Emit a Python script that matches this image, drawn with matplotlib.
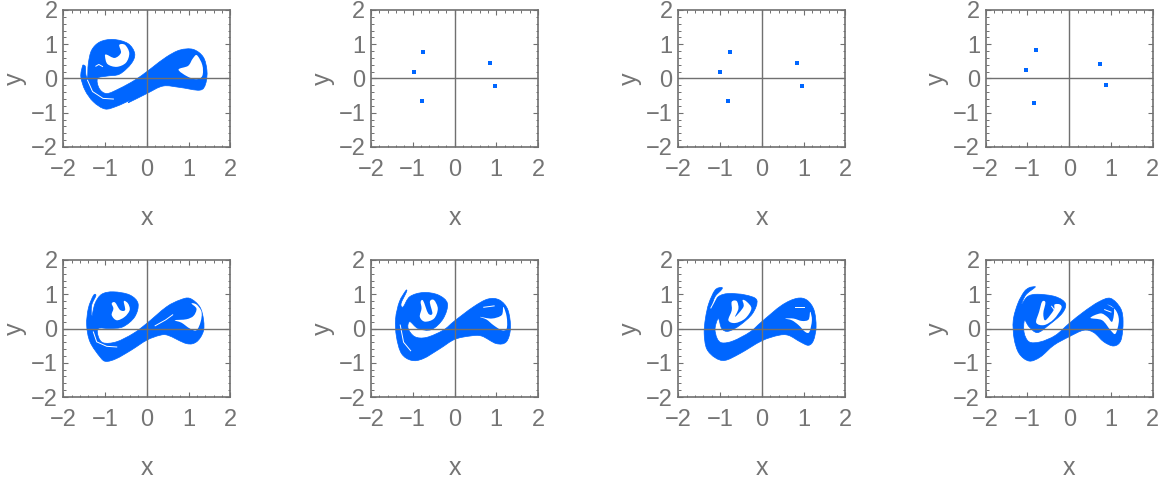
import matplotlib
matplotlib.use('Agg')
import matplotlib.pyplot as plt
from matplotlib.path import Path
from matplotlib.patches import PathPatch

plt.rcParams['font.family'] = ['Liberation Sans', 'DejaVu Sans']

BLUE = '#0066ff'
GREY = '#707070'
TEXT = '#747474'

# period-5 points, top row
dots2_x = [-0.76, -0.98, -0.79, 0.85, 0.98]
dots2_y = [0.78, 0.18, -0.67, 0.46, -0.22]
dots3_x = [-0.77, -0.99, -0.80, 0.84, 0.97]
dots3_y = [0.78, 0.19, -0.67, 0.46, -0.22]
dots4_x = [-0.80, -1.04, -0.85, 0.73, 0.87]
dots4_y = [0.83, 0.24, -0.71, 0.42, -0.19]

# attractor outlines
out1 = [(-1.54, 0.36), (-1.58, 0.05), (-1.48, -0.34), (-1.28, -0.68), (-1.0, -0.89), (-0.72, -0.81),
        (-0.40, -0.64), (-0.43, -0.70), (0.0, -0.44), (0.39, -0.22), (0.79, -0.26), (1.27, -0.34),
        (1.41, -0.15), (1.44, 0.24), (1.35, 0.63), (1.11, 0.85), (0.79, 0.83), (0.47, 0.63),
        (0.15, 0.34), (0.0, 0.2), (-0.29, -0.05), (-0.65, -0.29), (-0.96, -0.44), (-1.14, -0.29),
        (-1.18, 0.0), (-0.96, 0.07), (-0.65, 0.13), (-0.37, 0.44), (-0.29, 0.73), (-0.45, 1.02),
        (-0.8, 1.14), (-1.12, 1.07), (-1.32, 0.83), (-1.40, 0.44), (-1.42, 0.03), (-1.46, 0.12),
        (-1.47, 0.34), (-1.51, 0.39)]
hole1a = [(-1.0, 0.64), (-0.94, 0.42), (-0.72, 0.34), (-0.5, 0.46), (-0.42, 0.74), (-0.52, 0.98),
          (-0.66, 0.98), (-0.62, 0.75), (-0.77, 0.6), (-0.97, 0.7)]
hole1b = [(0.76, 0.26), (0.99, 0.37), (1.1, 0.58), (1.2, 0.68), (1.33, 0.39), (1.33, 0.08),
          (1.19, -0.02), (0.97, 0.06)]
slit1a = [(-1.42, -0.05), (-1.3, -0.38), (-1.05, -0.58), (-0.8, -0.6)]
slit1b = [(-1.22, 0.36), (-1.15, 0.41), (-1.06, 0.35)]

out5 = [(-1.28, 0.96), (-1.40, 0.59), (-1.44, 0.10), (-1.36, -0.39), (-1.12, -0.83), (-0.98, -0.96),
        (-0.73, -0.88), (-0.37, -0.63), (0.0, -0.34), (0.31, -0.2), (0.51, -0.2), (0.95, -0.44),
        (1.19, -0.39), (1.35, -0.1), (1.36, 0.24), (1.27, 0.63), (1.03, 0.88), (0.79, 0.83),
        (0.47, 0.63), (0.0, 0.15), (-0.33, -0.15), (-0.73, -0.39), (-1.04, -0.42), (-1.16, -0.24),
        (-1.16, 0.0), (-0.88, 0.0), (-0.57, 0.05), (-0.29, 0.34), (-0.21, 0.73), (-0.41, 0.98),
        (-0.8, 1.07), (-1.08, 1.0), (-1.24, 0.73), (-1.32, 0.34), (-1.32, 0.68), (-1.22, 0.96)]
hole5a = [(-0.84, 0.73), (-0.76, 0.76), (-0.64, 0.54), (-0.52, 0.54), (-0.55, 0.8), (-0.45, 0.73),
          (-0.41, 0.54), (-0.53, 0.34), (-0.72, 0.24), (-0.84, 0.39), (-0.8, 0.58)]
hole5b = [(0.67, 0.24), (0.95, 0.27), (1.12, 0.37), (1.19, 0.58), (1.07, 0.73), (1.19, 0.7),
          (1.31, 0.49), (1.29, 0.2), (1.19, -0.05), (1.03, 0.0), (0.83, 0.17)]
slit5a = [(-1.28, -0.1), (-1.2, -0.39), (-0.96, -0.52), (-0.72, -0.54)]
slit5b = [(0.2, 0.08), (0.45, 0.25), (0.62, 0.4)]

out6 = [(-1.17, 1.10), (-1.32, 0.78), (-1.41, 0.29), (-1.39, -0.24), (-1.27, -0.73), (-1.03, -0.93),
        (-0.75, -0.88), (-0.35, -0.59), (0.0, -0.32), (0.37, -0.22), (0.65, -0.22), (1.0, -0.44),
        (1.24, -0.39), (1.34, 0.0), (1.28, 0.54), (1.08, 0.83), (0.8, 0.86), (0.45, 0.63),
        (0.0, 0.22), (-0.27, -0.05), (-0.67, -0.26), (-0.95, -0.24), (-1.11, 0.0), (-1.07, 0.2),
        (-0.87, 0.0), (-0.55, -0.03), (-0.27, 0.29), (-0.17, 0.73), (-0.39, 0.98), (-0.75, 1.05),
        (-1.07, 0.93), (-1.23, 0.63), (-1.28, 0.73), (-1.15, 1.07)]
hole6a = [(-0.81, 0.78), (-0.75, 0.81), (-0.63, 0.44), (-0.53, 0.44), (-0.59, 0.78), (-0.49, 0.83),
          (-0.4, 0.58), (-0.49, 0.29), (-0.71, 0.2), (-0.83, 0.34), (-0.79, 0.58)]
hole6b = [(0.61, 0.34), (0.89, 0.29), (1.13, 0.39), (1.17, 0.63), (1.25, 0.34), (1.25, 0.0),
          (1.13, -0.05), (0.93, 0.1), (0.77, 0.26)]
slit6a = [(-1.3, 0.1), (-1.22, -0.4), (-1.05, -0.65)]
slit6b = [(0.7, 0.62), (0.95, 0.66)]

out7 = [(-0.97, 1.2), (-1.12, 1.12), (-1.27, 0.73), (-1.35, 0.29), (-1.38, -0.15), (-1.32, -0.59),
        (-1.12, -0.85), (-0.88, -0.93), (-0.52, -0.73), (0.0, -0.36), (0.4, -0.2), (0.64, -0.2),
        (0.92, -0.39), (1.12, -0.49), (1.24, -0.34), (1.3, 0.05), (1.25, 0.54), (1.08, 0.83),
        (0.84, 0.88), (0.48, 0.68), (0.0, 0.2), (-0.28, -0.1), (-0.68, -0.36), (-0.95, -0.42),
        (-1.07, -0.29), (-1.12, 0.0), (-1.04, 0.29), (-0.96, 0.0), (-0.8, -0.08), (-0.52, 0.1),
        (-0.22, 0.44), (-0.12, 0.83), (-0.4, 0.98), (-0.8, 1.02), (-1.04, 0.93), (-1.18, 0.68),
        (-1.12, 0.93), (-0.96, 1.14)]
hole7a = [(-0.72, 0.78), (-0.6, 0.8), (-0.56, 0.58), (-0.64, 0.34), (-0.44, 0.63), (-0.46, 0.83),
          (-0.36, 0.78), (-0.25, 0.58), (-0.4, 0.29), (-0.64, 0.16), (-0.8, 0.24), (-0.72, 0.53)]
hole7b = [(0.56, 0.29), (0.76, 0.29), (0.96, 0.22), (1.12, 0.26), (1.16, 0.49), (1.2, 0.24),
          (1.14, -0.1), (1.04, -0.1), (0.88, 0.1), (0.72, 0.24)]
slit7a = [(0.8, 0.62), (1.0, 0.62)]
slit7b = [(-1.1, 0.88), (-1.22, 0.6)]

out8 = [(-0.83, 1.22), (-0.96, 1.19), (-1.08, 1.07), (-1.23, 0.73), (-1.34, 0.24), (-1.32, -0.29),
        (-1.2, -0.73), (-0.96, -0.95), (-0.69, -0.83), (-0.37, -0.49), (0.0, -0.24), (0.35, -0.05),
        (0.59, -0.12), (0.83, -0.39), (1.07, -0.51), (1.24, -0.34), (1.29, 0.2), (1.23, 0.59),
        (0.99, 0.88), (0.71, 0.78), (0.35, 0.49), (0.0, 0.15), (-0.33, -0.2), (-0.69, -0.39),
        (-0.96, -0.39), (-1.08, -0.12), (-1.07, 0.24), (-0.96, 0.05), (-0.76, -0.12), (-0.49, 0.1),
        (-0.17, 0.44), (-0.09, 0.73), (-0.33, 0.93), (-0.76, 1.0), (-1.0, 0.93), (-1.15, 0.68),
        (-1.04, 0.98), (-0.83, 1.19)]
hole8a = [(-0.65, 0.78), (-0.57, 0.76), (-0.62, 0.44), (-0.57, 0.24), (-0.37, 0.54), (-0.35, 0.7),
          (-0.22, 0.7), (-0.19, 0.58), (-0.37, 0.27), (-0.6, 0.1), (-0.79, 0.17), (-0.72, 0.49)]
hole8b = [(0.51, 0.31), (0.75, 0.44), (0.91, 0.34), (1.03, 0.2), (1.07, 0.58), (0.91, 0.7),
          (1.11, 0.54), (1.19, 0.24), (1.11, -0.15), (0.99, -0.05), (0.79, 0.24)]
slit8a = [(0.85, 0.55), (1.0, 0.48)]
slit8b = [(-0.42, 0.65), (-0.3, 0.45)]

panels = [(dots2_x, dots2_y), (dots3_x, dots3_y), (dots4_x, dots4_y)]
shapes = [(out5, hole5a, hole5b, slit5a, slit5b), (out6, hole6a, hole6b, slit6a, slit6b),
          (out7, hole7a, hole7b, slit7a, slit7b), (out8, hole8a, hole8b, slit8a, slit8b)]

W, H = 1166, 484
lefts = [63.3, 371, 678.3, 985.7]
tops = [10, 260]


def smooth_path(pts):
    # closed bezier path through the traced points
    n = len(pts)
    verts = [pts[0]]
    codes = [Path.MOVETO]
    for i in range(n):
        p0, p1, p2, p3 = pts[i - 1], pts[i], pts[(i + 1) % n], pts[(i + 2) % n]
        verts.append((p1[0] + (p2[0] - p0[0]) / 6, p1[1] + (p2[1] - p0[1]) / 6))
        verts.append((p2[0] - (p3[0] - p1[0]) / 6, p2[1] - (p3[1] - p1[1]) / 6))
        verts.append(p2)
        codes += [Path.CURVE4] * 3
    return Path(verts, codes)


def draw_shape(ax, out, hole_a, hole_b, slit_a, slit_b):
    ax.add_patch(PathPatch(smooth_path(out), fc=BLUE, ec=BLUE, lw=0.5, zorder=2))
    for h in (hole_a, hole_b):
        ax.add_patch(PathPatch(smooth_path(h), fc='white', ec='none', zorder=3))
    for s in (slit_a, slit_b):
        ax.plot([p[0] for p in s], [p[1] for p in s], color='white', lw=0.7, zorder=3)


def setup(ax):
    ax.set_xlim(-2, 2)
    ax.set_ylim(-2, 2)
    ax.set_xticks([-2, -1, 0, 1, 2])
    ax.set_yticks([-2, -1, 0, 1, 2])
    ax.set_xticklabels(['\u22122', '\u22121', '0', '1', '2'])
    ax.set_yticklabels(['\u22122', '\u22121', '0', '1', '2'])
    ax.set_xticks([i / 5 for i in range(-10, 11) if i % 5], minor=True)
    ax.set_yticks([i / 5 for i in range(-10, 11) if i % 5], minor=True)
    ax.tick_params(which='major', direction='in', top=True, right=True, length=3.5, width=0.8,
                   color=GREY, labelcolor=TEXT, labelsize=17)
    ax.tick_params(which='minor', direction='in', top=True, right=True, length=1.8, width=0.7, color=GREY)
    ax.tick_params(axis='x', which='major', pad=9)
    ax.tick_params(axis='y', which='major', pad=4)
    ax.axhline(0, color=GREY, lw=1.0, zorder=5)
    ax.axvline(0, color=GREY, lw=1.0, zorder=5)
    for s in ax.spines.values():
        s.set_color(GREY)
        s.set_linewidth(1.2)
    ax.set_xlabel('x', fontsize=18, color=TEXT, va='center')
    ax.set_ylabel('y', fontsize=18, color=TEXT, va='center')
    ax.xaxis.set_label_coords(0.5, -0.52)
    ax.yaxis.set_label_coords(-0.29, 0.5)


fig = plt.figure(figsize=(W / 100, H / 100), dpi=100)
for r, top in enumerate(tops):
    for c, left in enumerate(lefts):
        ax = fig.add_axes([left / W, 1 - (top + 137) / H, 167 / W, 137 / H])
        setup(ax)
        if r == 0 and c == 0:
            draw_shape(ax, out1, hole1a, hole1b, slit1a, slit1b)
        elif r == 0:
            px, py = panels[c - 1]
            ax.plot(px, py, ls='none', marker='s', ms=2.6, color=BLUE, mew=0, zorder=2)
        else:
            draw_shape(ax, *shapes[c])

fig.savefig('out.png', dpi=100)
